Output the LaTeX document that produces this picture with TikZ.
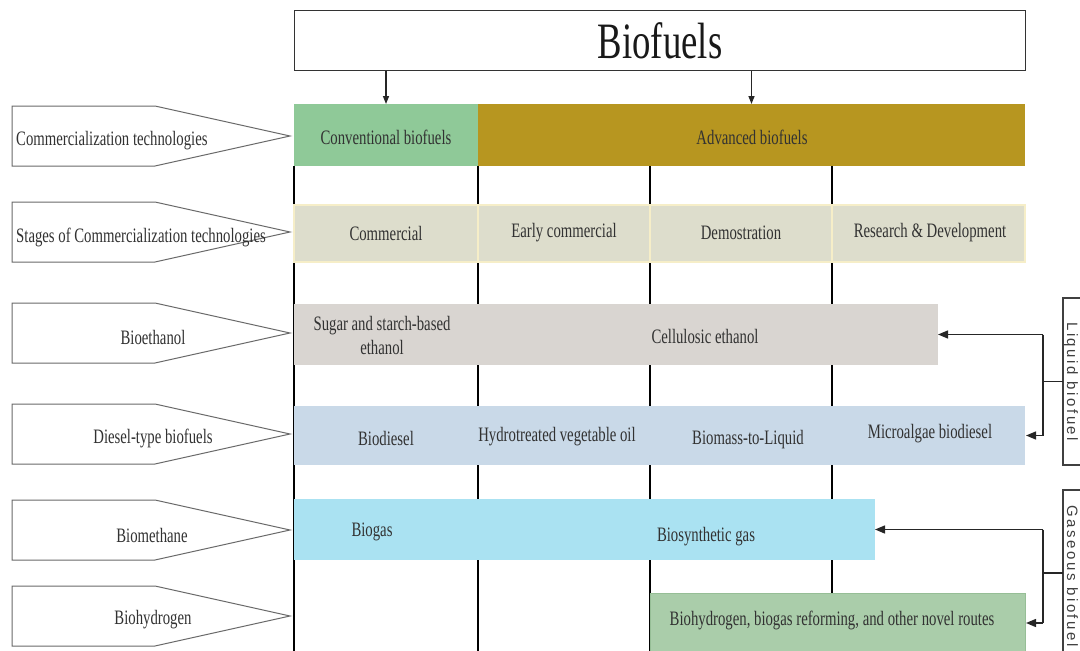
\documentclass[tikz,border=0pt]{standalone}
\usepackage{fontspec}
\setmainfont{Liberation Serif}
\newfontfamily\cond[FakeStretch=0.72]{Liberation Serif}
\newfontfamily\spaced[LetterSpace=17]{Liberation Sans}
\usetikzlibrary{arrows.meta}
\definecolor{convg}{RGB}{143,201,152}
\definecolor{advg}{RGB}{183,150,32}
\definecolor{stagec}{RGB}{221,221,204}
\definecolor{stageb}{RGB}{246,238,200}
\definecolor{ethc}{RGB}{217,213,209}
\definecolor{dslc}{RGB}{201,217,232}
\definecolor{mthc}{RGB}{170,226,242}
\definecolor{hydc}{RGB}{170,205,170}
\definecolor{hydb}{RGB}{150,190,150}
\definecolor{txtgray}{RGB}{50,50,50}
\definecolor{taggray}{RGB}{105,105,105}
\begin{document}
\begin{tikzpicture}[x=1pt,y=-1pt,
  band/.style={inner sep=0pt, outer sep=0pt, anchor=north west, draw=none},
  lbl/.style={font=\cond\fontsize{20.5}{23}\selectfont, text=txtgray, inner sep=0pt, align=center},
  tag/.style={draw=taggray, line width=1pt, fill=white},
  vline/.style={line width=2.6pt, black},
  link/.style={line width=1.4pt, draw=black!85},
  arr/.style={link, -{Triangle[length=10pt,width=8pt]}},
  arrs/.style={line width=1.4pt, draw=black!85, -{Triangle[length=8pt,width=6pt]}},
  sidebox/.style={draw=black!75, line width=1.2pt, fill=white, anchor=north west, inner sep=0pt, outer sep=0pt, minimum width=40pt},
  sidetxt/.style={font=\spaced\fontsize{15}{15}\selectfont, rotate=-90, anchor=base west, inner sep=0pt, text=black!75}
]
\useasboundingbox (0,0) rectangle (1080,651);
\clip (0,0) rectangle (1080,651);

% top box
\node[draw=black!80, line width=1.2pt, fill=white, minimum width=731pt, minimum height=60pt,
      anchor=north west, inner sep=0pt, font=\cond\fontsize{51}{55}\selectfont, text=black!90] (bio) at (294,10) {Biofuels};

% vertical grid lines
\draw[vline] (294,166) -- (294,651);
\draw[vline] (478,166) -- (478,651);
\draw[vline] (650,166) -- (650,651);
\draw[vline] (832,166) -- (832,593);

% left tags
\foreach \t in {106,202,303,404,500,586}
  \draw[tag] (12,\t) -- (155,\t) -- (290,\t+30) -- (155,\t+60) -- (12,\t+60) -- cycle;
\node[lbl, anchor=west] (tg1) at (16,141) {Commercialization technologies};
\node[lbl, anchor=west] (tg2) at (16,237) {Stages of Commercialization technologies};
\node[lbl] (tg3) at (153,337) {Bioethanol};
\node[lbl] (tg4) at (153,438) {Diesel-type biofuels};
\node[lbl] (tg5) at (152,535) {Biomethane};
\node[lbl] (tg6) at (153,620) {Biohydrogen};

% row 1
\node[band, fill=convg, minimum width=184pt, minimum height=62pt] (conv) at (294,104) {};
\node[band, fill=advg, minimum width=547pt, minimum height=62pt] (adv) at (478,104) {};
\node[lbl] (convt) at (386,137) {Conventional biofuels};
\node[lbl] (advt) at (752,137) {Advanced biofuels};

% row 2 stages
\node[band, fill=stagec, draw=stageb, line width=1.5pt, minimum width=184pt, minimum height=57pt] (s1) at (294,205) {};
\node[band, fill=stagec, draw=stageb, line width=1.5pt, minimum width=172pt, minimum height=57pt] (s2) at (478,205) {};
\node[band, fill=stagec, draw=stageb, line width=1.5pt, minimum width=182pt, minimum height=57pt] (s3) at (650,205) {};
\node[band, fill=stagec, draw=stageb, line width=1.5pt, minimum width=193pt, minimum height=57pt] (s4) at (832,205) {};
\node[lbl] (s1t) at (386,233) {Commercial};
\node[lbl] (s2t) at (564,233) {Early commercial};
\node[lbl] (s3t) at (741,233) {Demostration};
\node[lbl] (s4t) at (930,233) {Research \& Development};

% row 3 bioethanol
\node[band, fill=ethc, minimum width=644pt, minimum height=61pt] (eth) at (294,304) {};
\node[lbl, font=\cond\fontsize{20.5}{24}\selectfont] (etht1) at (382,335) {Sugar and starch-based\\ethanol};
\node[lbl] (etht2) at (705,336) {Cellulosic ethanol};

% row 4 diesel
\node[band, fill=dslc, minimum width=731pt, minimum height=59pt] (dsl) at (294,406) {};
\node[lbl] (d1) at (386,438) {Biodiesel};
\node[lbl] (d2) at (557,437) {Hydrotreated vegetable oil};
\node[lbl] (d3) at (748,440) {Biomass-to-Liquid};
\node[lbl] (d4) at (930,434) {Microalgae biodiesel};

% row 5 biomethane
\node[band, fill=mthc, minimum width=581pt, minimum height=61pt] (mth) at (294,499) {};
\node[lbl] (m1) at (372,532) {Biogas};
\node[lbl] (m2) at (706,537) {Biosynthetic gas};

% row 6 biohydrogen
\node[band, fill=hydc, draw=hydb, line width=1pt, minimum width=375pt, minimum height=60pt] (hyd) at (650,593) {};
\node[lbl] (h1) at (832,620) {Biohydrogen, biogas reforming, and other novel routes};

% top arrows
\draw[arrs] (bio.south -| conv.north) -- (conv.north);
\draw[arrs] (bio.south -| adv.north) -- (adv.north);

% right side boxes
\node[sidebox, minimum height=167pt] (liq) at (1063,298) {};
\node[sidebox, minimum height=166pt] (gas) at (1063,490) {};
\node[sidetxt] (liqt) at (1067,322) {Liquid biofuel};
\node[sidetxt] (gast) at (1067,505) {Gaseous biofuel};

% brackets
\coordinate (bx) at (1043,0);
\coordinate (lqa) at (eth.east -| bx);
\coordinate (lqb) at (dsl.east -| bx);
\draw[link] (liq.west) -- (liq.west -| bx);
\draw[link] (lqa) -- (lqb);
\draw[arr] (lqa) -- (eth.east);
\draw[arr, shorten >=1pt] (lqb) -- (dsl.east);

\coordinate (gsa) at (mth.east -| bx);
\coordinate (gsb) at (hyd.east -| bx);
\draw[link] (gas.west) -- (gas.west -| bx);
\draw[link] (gsa) -- (gsb);
\draw[arr] (gsa) -- (mth.east);
\draw[arr, shorten >=1pt] (gsb) -- (hyd.east);
\end{tikzpicture}
\end{document}
